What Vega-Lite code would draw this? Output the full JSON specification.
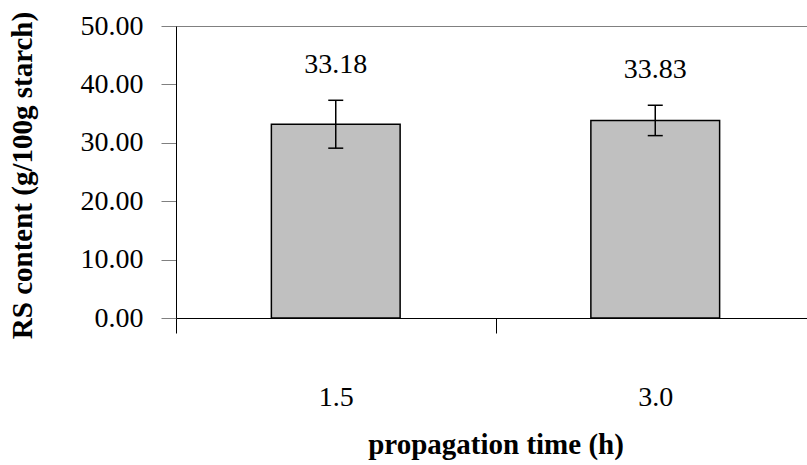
{
  "$schema": "https://vega.github.io/schema/vega-lite/v6.json",
  "width": 639,
  "height": 292,
  "autosize": {"type": "none"},
  "padding": {"left": 176, "top": 26, "right": 0, "bottom": 147},
  "background": "white",
  "config": {
    "view": {"stroke": "#808080", "strokeWidth": 1},
    "font": "Liberation Serif"
  },
  "data": {
    "values": [
      {"time": "1.5", "rs": 33.18, "lo": 29.08, "hi": 37.28},
      {"time": "3.0", "rs": 33.83, "lo": 31.23, "hi": 36.43}
    ]
  },
  "encoding": {
    "x": {
      "field": "time",
      "type": "nominal",
      "sort": null,
      "scale": {"paddingInner": 0, "paddingOuter": 0},
      "axis": {
        "title": "propagation time (h)",
        "titleFont": "Liberation Serif",
        "titleFontSize": 29,
        "titleFontWeight": "bold",
        "titleColor": "black",
        "titlePadding": 19,
        "labelFont": "Liberation Serif",
        "labelFontSize": 28,
        "labelColor": "black",
        "labelAngle": 0,
        "labelPadding": 50,
        "tickSize": 15,
        "tickColor": "black",
        "tickWidth": 1,
        "tickOffset": -159.75,
        "labelOffset": 159.75,
        "domainColor": "black",
        "domainWidth": 1
      }
    }
  },
  "layer": [
    {
      "mark": {"type": "bar", "width": {"band": 0.403}, "fill": "#c0c0c0", "stroke": "black", "strokeWidth": 1.5},
      "encoding": {
        "y": {
          "field": "rs",
          "type": "quantitative",
          "scale": {"domain": [0, 50], "nice": false},
          "axis": {
            "title": "RS content (g/100g starch)",
            "titleFont": "Liberation Serif",
            "titleFontSize": 29,
            "titleFontWeight": "bold",
            "titleColor": "black",
            "titlePadding": 43,
            "titleY": 149,
            "values": [0, 10, 20, 30, 40, 50],
            "format": ".2f",
            "labelFont": "Liberation Serif",
            "labelFontSize": 28,
            "labelColor": "black",
            "labelPadding": 18,
            "tickSize": 15,
            "tickColor": "#808080",
            "tickWidth": 1,
            "domainColor": "black",
            "domainWidth": 1,
            "grid": false
          }
        }
      }
    },
    {
      "mark": {"type": "rule", "stroke": "black", "strokeWidth": 1.5},
      "encoding": {
        "y": {"field": "lo", "type": "quantitative"},
        "y2": {"field": "hi"}
      }
    },
    {
      "mark": {"type": "tick", "size": 15, "thickness": 1.5, "color": "black", "opacity": 1},
      "encoding": {"y": {"field": "lo", "type": "quantitative"}}
    },
    {
      "mark": {"type": "tick", "size": 15, "thickness": 1.5, "color": "black", "opacity": 1},
      "encoding": {"y": {"field": "hi", "type": "quantitative"}}
    },
    {
      "mark": {"type": "text", "dy": -27, "fontSize": 28, "font": "Liberation Serif", "color": "black", "baseline": "alphabetic"},
      "encoding": {
        "y": {"field": "hi", "type": "quantitative"},
        "text": {"field": "rs", "type": "quantitative", "format": ".2f"}
      }
    }
  ]
}
